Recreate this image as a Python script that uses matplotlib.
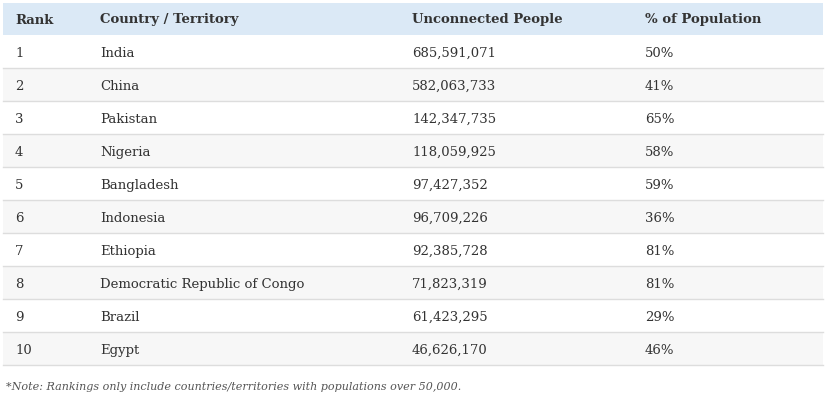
import matplotlib.pyplot as plt
from matplotlib.patches import Rectangle

# table data
headers = ["Rank", "Country / Territory", "Unconnected People", "% of Population"]
ranks = ["1", "2", "3", "4", "5", "6", "7", "8", "9", "10"]
countries = ["India", "China", "Pakistan", "Nigeria", "Bangladesh", "Indonesia",
             "Ethiopia", "Democratic Republic of Congo", "Brazil", "Egypt"]
unconnected = ["685,591,071", "582,063,733", "142,347,735", "118,059,925", "97,427,352",
               "96,709,226", "92,385,728", "71,823,319", "61,423,295", "46,626,170"]
pct_population = ["50%", "41%", "65%", "58%", "59%", "36%", "81%", "81%", "29%", "46%"]
note = "*Note: Rankings only include countries/territories with populations over 50,000."

plt.rcParams['font.family'] = ['DejaVu Serif']

fig = plt.figure(figsize=(8.31, 4.02), dpi=100)
ax = fig.add_axes([0, 0, 1, 1])
ax.set_xlim(0, 831)
ax.set_ylim(402, 0)
ax.axis('off')

left, right = 3, 823
head_top, head_h = 4, 32
row_h = 33
col_x = [15, 100, 412, 645]

# header band
ax.add_patch(Rectangle((left, head_top), right - left, head_h, facecolor='#dbe9f6', edgecolor='none'))
for x, h in zip(col_x, headers):
    ax.text(x, head_top + head_h / 2, h, fontsize=9.5, fontweight='bold', color='#333333',
            va='center', ha='left')

# body rows
rows = list(zip(ranks, countries, unconnected, pct_population))
for i, row in enumerate(rows):
    top = head_top + head_h + i * row_h
    bg = '#ffffff' if i % 2 == 0 else '#f7f7f7'
    ax.add_patch(Rectangle((left, top), right - left, row_h, facecolor=bg, edgecolor='none'))
    ax.plot([left, right], [top + row_h, top + row_h], color='#dddddd', linewidth=1)
    for x, val in zip(col_x, row):
        ax.text(x, top + row_h / 2 + 1, val, fontsize=9.5, color='#333333', va='center', ha='left')

ax.text(6, 387, note, fontsize=8, style='italic', color='#555555', va='center', ha='left')

fig.savefig('out.png', dpi=100)
